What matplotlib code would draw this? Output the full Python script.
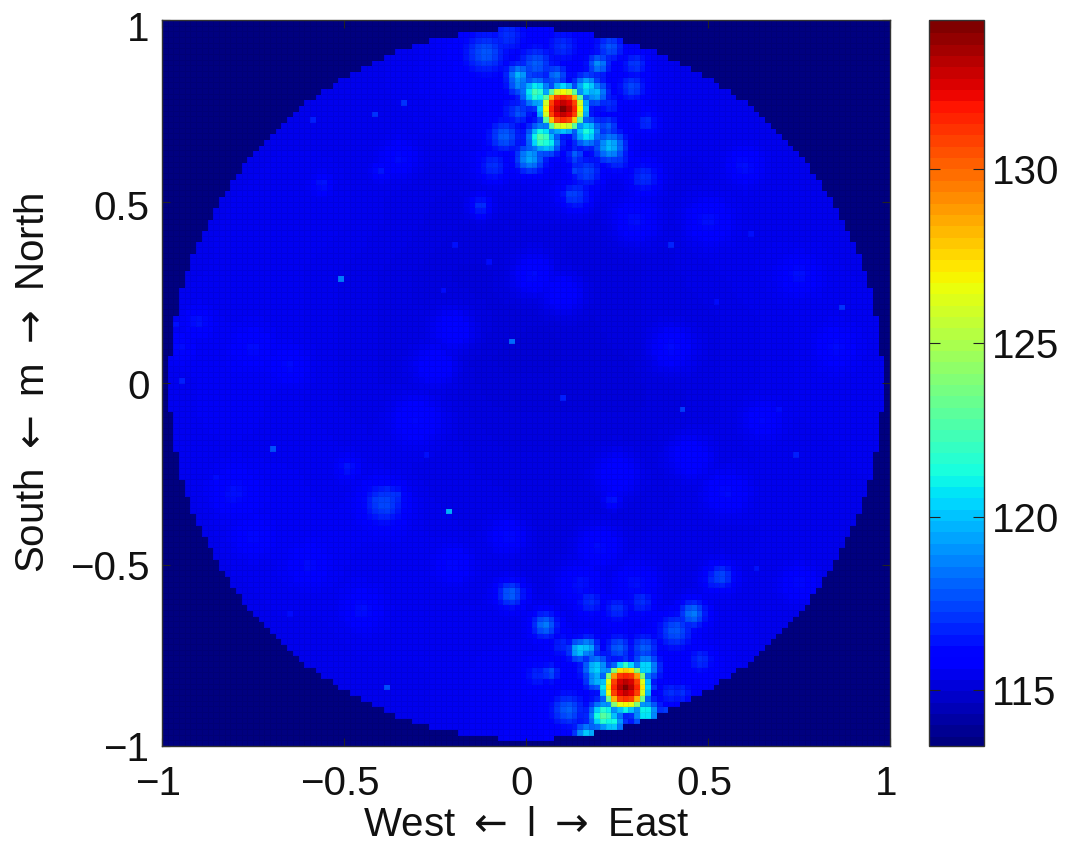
import numpy as np
import matplotlib
matplotlib.use("Agg")
import matplotlib.pyplot as plt
from matplotlib.cm import ScalarMappable
from matplotlib.colors import Normalize
from matplotlib.transforms import ScaledTranslation

plt.rcParams['font.family'] = ['Liberation Sans', 'DejaVu Sans']
plt.rcParams['mathtext.fontset'] = 'dejavusans'

# image grid and colour range
n_cells = 128
vmin, vmax = 113.4, 134.3
outside_value = 113.4
disc_radius = 0.98
cbar_ticks = [115, 120, 125, 130]
axis_ticks = [-1, -0.5, 0, 0.5, 1]
axis_labels = ['\u22121', '\u22120.5', '0', '0.5', '1']

# slowly varying floor inside the disc, rows from north to south (16 x 16 blocks)
floor_levels = [
    [115.3,115.3,115.3,115.3,115.4,115.5,115.7,115.8,115.8,115.7,115.5,115.4,115.3,115.3,115.3,115.3],
    [115.3,115.3,115.3,115.4,115.4,115.5,115.7,115.8,115.8,115.8,115.6,115.4,115.4,115.3,115.3,115.3],
    [115.3,115.3,115.4,115.4,115.4,115.4,115.5,115.6,115.7,115.6,115.5,115.4,115.4,115.4,115.3,115.3],
    [115.3,115.4,115.5,115.5,115.4,115.3,115.3,115.4,115.5,115.4,115.4,115.3,115.4,115.4,115.4,115.3],
    [115.3,115.5,115.5,115.5,115.4,115.3,115.2,115.2,115.3,115.2,115.2,115.3,115.4,115.4,115.4,115.3],
    [115.4,115.5,115.5,115.4,115.3,115.2,115.1,115.1,115.1,115.1,115.2,115.3,115.4,115.5,115.5,115.4],
    [115.5,115.5,115.5,115.4,115.3,115.2,115.1,115.1,115.0,115.1,115.2,115.2,115.3,115.4,115.5,115.5],
    [115.5,115.6,115.5,115.4,115.3,115.2,115.1,115.0,115.0,115.1,115.1,115.2,115.3,115.4,115.5,115.5],
    [115.5,115.6,115.5,115.4,115.3,115.2,115.2,115.1,115.1,115.1,115.1,115.2,115.3,115.4,115.5,115.5],
    [115.5,115.5,115.5,115.5,115.4,115.3,115.3,115.2,115.2,115.2,115.2,115.2,115.3,115.4,115.4,115.5],
    [115.4,115.5,115.6,115.5,115.5,115.4,115.3,115.3,115.2,115.2,115.2,115.3,115.3,115.4,115.4,115.4],
    [115.3,115.5,115.5,115.6,115.5,115.5,115.4,115.3,115.2,115.2,115.3,115.3,115.3,115.4,115.4,115.3],
    [115.3,115.4,115.5,115.5,115.5,115.5,115.4,115.4,115.3,115.3,115.3,115.3,115.4,115.4,115.4,115.3],
    [115.3,115.3,115.4,115.4,115.5,115.5,115.5,115.5,115.5,115.6,115.6,115.5,115.5,115.4,115.3,115.3],
    [115.3,115.3,115.3,115.4,115.4,115.4,115.5,115.6,115.7,115.8,115.9,115.8,115.6,115.4,115.3,115.3],
    [115.3,115.3,115.3,115.3,115.4,115.4,115.5,115.6,115.7,115.8,115.9,115.8,115.5,115.3,115.3,115.3],
]

# main beams: centre (l, m) and cell values, rows from north to south
north_core_l, north_core_m = 0.105, 0.755
north_core = [
    [113.4,113.4,113.4,113.4,115.8,116.5,115.8,113.4,113.4,113.4,113.4],
    [113.4,113.4,115.8,117.5,119.5,120.5,119.5,117.5,115.8,113.4,113.4],
    [113.4,115.8,118.5,123.0,126.0,126.8,126.0,123.0,118.5,115.8,113.4],
    [113.4,117.5,123.0,128.5,131.0,131.6,131.0,128.5,123.0,117.5,113.4],
    [115.8,119.5,126.0,131.0,132.4,133.0,132.5,131.0,126.0,119.4,115.8],
    [116.5,120.2,127.0,131.6,133.0,134.2,133.2,131.6,126.8,120.0,116.5],
    [115.8,119.5,126.0,131.0,132.4,133.0,132.4,131.0,125.8,119.5,115.8],
    [113.4,117.5,123.0,128.2,130.8,131.4,130.8,128.0,123.0,117.5,113.4],
    [113.4,115.8,118.5,123.0,125.8,126.4,125.8,123.0,118.5,115.8,113.4],
    [113.4,113.4,115.8,117.5,119.5,120.0,119.5,117.5,115.8,113.4,113.4],
    [113.4,113.4,113.4,113.4,115.8,116.5,115.8,113.4,113.4,113.4,113.4],
]
south_core_l, south_core_m = 0.27, -0.836
south_core = [
    [113.4,113.4,113.4,113.4,116.0,117.0,116.0,113.4,113.4,113.4,113.4],
    [113.4,113.4,116.0,118.0,120.5,122.0,120.5,118.0,116.0,113.4,113.4],
    [113.4,116.0,119.0,124.0,127.5,128.0,127.5,124.0,119.0,116.0,113.4],
    [113.4,118.0,124.0,129.0,131.2,131.6,131.2,129.0,124.0,118.0,113.4],
    [116.0,120.0,126.5,131.0,132.6,133.2,132.6,131.0,126.5,120.0,116.0],
    [117.0,120.8,127.5,131.6,133.2,134.3,133.2,131.6,127.2,120.5,117.0],
    [116.0,120.0,126.5,131.0,132.4,133.0,132.4,131.0,126.2,119.8,116.0],
    [113.4,118.0,123.5,128.5,131.0,131.4,131.0,128.5,123.5,118.0,113.4],
    [113.4,116.0,119.0,124.0,126.5,127.0,126.5,124.0,119.0,116.0,113.4],
    [113.4,113.4,116.0,118.0,120.0,121.0,120.0,118.0,116.0,113.4,113.4],
    [113.4,113.4,113.4,113.4,116.0,116.5,116.0,113.4,113.4,113.4,113.4],
]

# sidelobes around the beams and broader faint patches: l, m, peak value, width in cells
lobe_l = [0.027,0.167,0.19,0.043,0.06,0.167,0.23,0.011,-0.02,-0.02,0.082,0.199,0.23,-0.113,0.027,-0.05,
          0.292,0.167,0.136,0.324,-0.06,-0.02,0.136,0.136,0.224,0.23,0.25,0.10,-0.09,0.33,0.30,-0.03,
          0.192,0.192,0.328,0.214,0.235,0.328,0.145,0.169,0.167,0.254,0.379,0.067,0.052,0.114,-0.042,0.457,
          0.41,0.535,0.325,0.254,0.395,0.426,0.317,0.176,0.03,0.48,0.25,0.10,
          -0.39,-0.36,-0.41,-0.38,-0.49,0.52,0.235,-0.125,0.125,-0.56,-0.40,
          -0.90,-0.95,-0.80,-0.75,-0.60,0.20,0.30,0.55,0.75,0.85,-0.30,-0.20,0.10,0.40,-0.65,0.60,-0.35,0.50,
          -0.45,0.75,0.30,0.15,-0.20,-0.05,-0.25,0.45,0.65,-0.75,0.02,0.25]
lobe_m = [0.802,0.817,0.802,0.677,0.665,0.693,0.654,0.622,0.849,0.825,0.849,0.88,0.927,0.911,0.88,0.958,
          0.817,0.583,0.52,0.568,0.682,0.747,0.63,0.59,0.708,0.77,0.62,0.93,0.60,0.72,0.88,0.75,
          -0.783,-0.813,-0.781,-0.914,-0.93,-0.905,-0.733,-0.727,-0.969,-0.953,-0.914,-0.795,-0.664,-0.898,
          -0.578,-0.633,-0.68,-0.53,-0.727,-0.727,-0.85,-0.85,-0.60,-0.60,-0.80,-0.76,-0.62,-0.72,
          -0.33,-0.31,-0.32,-0.30,-0.23,-0.537,-0.32,0.49,0.52,0.55,0.585,
          0.17,0.10,-0.30,-0.42,-0.50,-0.45,0.45,-0.30,0.30,0.10,-0.10,0.15,0.25,0.10,0.05,0.60,0.62,0.45,
          -0.62,-0.55,-0.55,-0.55,-0.50,-0.42,0.05,-0.20,-0.10,0.10,0.30,-0.25]
lobe_value = [122.5,121.0,120.0,123.0,121.5,121.5,120.0,119.5,119.8,119.0,118.5,119.0,117.8,117.8,118.0,117.0,
              117.5,117.5,117.2,117.0,118.0,117.8,118.0,117.5,118.0,117.0,117.2,117.0,117.0,117.0,117.2,117.0,
              120.5,120.0,121.0,123.0,121.5,121.5,120.5,120.0,120.5,119.0,119.0,117.8,118.5,118.0,
              118.0,118.5,117.8,117.5,118.0,118.0,117.0,117.0,117.0,117.0,116.8,117.0,117.0,116.8,
              117.5,117.2,117.2,117.0,116.5,117.0,116.5,117.0,117.5,116.5,116.5,
              116.4,116.2,116.3,116.2,116.2,116.2,116.3,116.2,116.3,116.2,116.1,116.1,116.1,116.2,116.2,116.3,116.2,116.3,
              116.3,116.2,116.3,116.3,116.2,116.2,116.1,116.1,116.1,116.2,116.2,116.1]
lobe_width = [1.6,1.4,1.4,1.6,1.4,1.6,1.8,1.7,1.3,1.2,1.2,1.2,1.5,2.2,1.8,1.8,
              1.5,1.8,1.8,1.8,1.8,1.2,1.0,0.8,1.2,1.2,1.6,1.6,1.8,1.2,1.4,1.6,
              1.5,1.2,1.4,1.6,1.4,1.4,1.2,1.2,1.4,0.8,0.8,1.0,1.5,1.8,
              1.6,1.6,2.0,1.6,1.5,1.4,1.1,1.1,1.6,1.6,1.4,1.4,1.6,1.4,
              2.4,1.2,1.2,1.2,1.2,1.5,1.0,1.2,1.2,1.0,1.0,
              1.5,1.5,2.5,2.0,2.0,2.5,2.5,2.5,2.0,2.0,3.0,2.5,2.5,2.5,2.0,2.0,2.0,2.5,
              2.0,2.0,2.5,2.5,2.0,2.0,2.5,2.5,2.0,2.0,2.5,2.5]

# isolated bright cells elsewhere in the disc: l, m, value
spot_l = [-0.51,-0.04,-0.97,-0.97,-0.69,-0.215,-0.39,-0.415,-0.335,-0.59,0.435,0.75,0.87,0.40,
          0.105,-0.195,0.61,-0.95,-0.965,-0.65,0.31,-0.10,-0.85,0.70,-0.28,-0.22,0.63,0.53]
spot_m = [0.295,0.115,-0.17,-0.155,-0.18,-0.358,-0.835,0.75,0.77,0.73,-0.063,-0.20,0.215,0.39,
          -0.04,0.39,0.41,0.014,0.16,-0.64,0.55,0.33,-0.25,-0.07,-0.19,0.26,-0.50,0.22]
spot_value = [118.5,118.2,121.8,120.8,117.6,119.6,117.6,117.0,117.0,116.6,117.2,116.6,117.0,116.7,
              116.6,116.3,116.3,116.6,116.3,116.2,116.6,116.2,116.2,116.2,116.3,116.2,116.4,116.2]

# ---- fill the grid ----
edges = np.linspace(-1, 1, n_cells + 1)
centres = (edges[:-1] + edges[1:]) / 2
floor = np.kron(np.array(floor_levels), np.ones((n_cells // 16, n_cells // 16)))[::-1]
box = np.ones(9) / 9
floor = np.apply_along_axis(lambda a: np.convolve(np.pad(a, 4, mode='edge'), box, 'valid'), 0, floor)
floor = np.apply_along_axis(lambda a: np.convolve(np.pad(a, 4, mode='edge'), box, 'valid'), 1, floor)
grid = floor.copy()            # grid[row, col]: row 0 is south
ll, mm = np.meshgrid(centres, centres)
cell_size = 2 / n_cells

for l, m, v, w in zip(lobe_l, lobe_m, lobe_value, lobe_width):
    d2 = ((ll - l) ** 2 + (mm - m) ** 2) / (w * cell_size) ** 2
    grid = np.maximum(grid, floor + (v - floor) * np.exp(-d2 / 2))


def cell(l, m):
    return int(np.argmin(abs(centres - l))), int(np.argmin(abs(centres - m)))


for l, m, v in zip(spot_l, spot_m, spot_value):
    c, r = cell(l, m)
    grid[r, c] = max(grid[r, c], v)

for core, lc, mc in ((north_core, north_core_l, north_core_m),
                     (south_core, south_core_l, south_core_m)):
    c, r = cell(lc, mc)
    arr = np.array(core)[::-1]
    grid[r - 5:r + 6, c - 5:c + 6] = np.maximum(grid[r - 5:r + 6, c - 5:c + 6], arr)

grid[ll ** 2 + mm ** 2 > disc_radius ** 2] = outside_value

# ---- draw ----
W, H = 1066, 843
fig = plt.figure(figsize=(W / 100, H / 100), dpi=100)
ax = fig.add_axes([162 / W, (H - 746) / H, 728 / W, 726 / H])
ax.pcolormesh(edges, edges, grid, cmap=plt.get_cmap('jet', 256), vmin=vmin, vmax=vmax,
              edgecolors=(0, 0, 0, 0.07), linewidth=0.5)
ax.set_xlim(-1, 1)
ax.set_ylim(-1, 1)
ax.set_xticks(axis_ticks, axis_labels)
ax.set_yticks(axis_ticks, axis_labels)
ax.tick_params(direction='in', top=True, right=True, length=6, width=0.8, labelsize=29,
               color='#222222', labelcolor='#111111')
ax.tick_params(axis='x', pad=14)
ax.tick_params(axis='y', pad=9)
ax.set_xlabel(r'West $\leftarrow$ l $\rightarrow$ East', fontsize=29, color='#111111', va='center')
ax.set_ylabel(r'South $\leftarrow$ m $\rightarrow$ North', fontsize=29, color='#111111', va='center')
ax.xaxis.set_label_coords(0.5, (746 - 825) / 726)
ax.yaxis.set_label_coords((33 - 162) / 728, 0.5)
for s in ax.spines.values():
    s.set_linewidth(1.0)
    s.set_color('#333333')

# tick label nudges in pixels, as MATLAB places them
for lab in ax.get_xticklabels():
    lab.set_transform(lab.get_transform() + ScaledTranslation(-4 / 100, 0, fig.dpi_scale_trans))
for lab, dy in zip(ax.get_yticklabels(), [0, 0, 1, 4, 6]):
    lab.set_transform(lab.get_transform() + ScaledTranslation(0, -dy / 100, fig.dpi_scale_trans))

cax = fig.add_axes([929 / W, (H - 746) / H, 55 / W, 726 / H])
mappable = ScalarMappable(Normalize(vmin, vmax), plt.get_cmap('jet', 64))
cb = fig.colorbar(mappable, cax=cax)
cb.set_ticks(cbar_ticks)
cb.solids.set_edgecolor('face')
cb.ax.tick_params(direction='in', left=True, right=True, length=8, width=0.8, labelsize=29,
                  color='#222222', labelcolor='#111111', pad=6)
cb.outline.set_linewidth(1.0)
cb.outline.set_edgecolor('#333333')

fig.savefig('out.png', dpi=100)
